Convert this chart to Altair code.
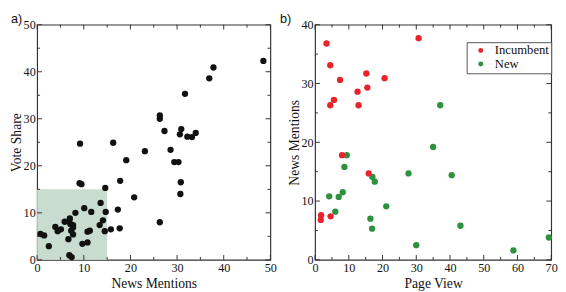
import altair as alt
import pandas as pd

# ---------------- data ----------------
# panel a) : News Mentions vs Vote Share
mentions_a = [48.5, 37.8, 36.9, 31.7, 26.3, 26.3, 27.3, 30.9, 30.6, 32.2, 33.2, 34.0,
              9.2, 16.3, 23.1, 28.6, 19.1, 29.4, 30.3, 30.8, 30.7, 9.1, 9.5, 17.8,
              14.6, 20.8, 26.3,
              13.6, 10.1, 8.2, 11.6, 14.7, 17.3, 7.0, 6.9, 5.9, 14.1, 13.4, 7.1, 7.7,
              3.9, 7.7, 5.1, 4.4, 15.8, 17.7, 14.5, 10.8, 11.3, 7.3, 7.7, 0.7, 1.5,
              6.7, 2.5, 9.7, 10.8, 6.9, 7.4]
vote_share = [42.3, 40.9, 38.6, 35.3, 30.7, 30.0, 27.4, 27.8, 26.7, 26.2, 26.1, 27.0,
              24.7, 24.9, 23.1, 23.4, 21.2, 20.8, 20.8, 16.5, 14.0, 16.3, 16.1, 16.8,
              15.3, 13.3, 8.0,
              12.1, 11.0, 10.0, 10.2, 10.2, 10.7, 8.8, 8.2, 8.1, 8.4, 7.4, 7.6, 7.4,
              7.0, 6.9, 6.5, 6.1, 6.5, 6.7, 6.1, 6.0, 6.2, 6.2, 5.4, 5.5, 5.2,
              4.4, 2.9, 3.4, 3.7, 1.0, 0.6]
shade_x = [0, 15]
shade_y = [0, 15]

# panel b) : Page View vs News Mentions
groups = ["Incumbent", "New"]
inc_pageview = [3.4, 4.5, 7.4, 15.2, 20.6, 30.7, 12.6, 15.5, 5.6, 4.5, 12.9, 8.0,
                15.9, 1.8, 1.7, 4.6]
inc_mentions = [36.8, 33.1, 30.6, 31.7, 30.9, 37.7, 28.6, 29.3, 27.2, 26.3, 26.3, 17.8,
                14.7, 7.6, 6.8, 7.4]
new_pageview = [37.1, 35.0, 9.4, 8.7, 17.0, 17.7, 27.7, 40.5, 4.2, 8.2, 7.0, 6.0,
                21.1, 16.4, 16.9, 43.1, 30.0, 58.8, 69.3]
new_mentions = [26.3, 19.2, 17.8, 15.8, 14.1, 13.3, 14.7, 14.4, 10.8, 11.5, 10.7, 8.2,
                9.1, 7.0, 5.3, 5.8, 2.5, 1.6, 3.8]

panel_labels = ["a)", "b)"]

# ---------------- style ----------------
SERIF = "Liberation Serif"
SANS = "Liberation Sans"
FRAME = "#333333"
RED = "#e8232b"
GREEN = "#2e913d"
SHADE = "#c8ddcf"

H = 242
W1 = 240
W2 = 243
GAP = 46


def axis(title, values):
    return alt.Axis(title=title, values=values, ticks=False, domain=False, grid=False,
                    labelFlush=False, labelOverlap=False)


def tick_layers(xscale, yscale, xaxis, yaxis, xmax, ymax, W, H):
    layers = []
    for start, length in ((0, 5), (5, 3)):
        xv = pd.DataFrame({"v": list(range(start, xmax + 1, 10))})
        yv = pd.DataFrame({"v": list(range(start, ymax + 1, 10))})
        bx = alt.Chart(xv).mark_rule(color=FRAME, strokeWidth=1)
        by = alt.Chart(yv).mark_rule(color=FRAME, strokeWidth=1)
        X = alt.X("v:Q", scale=xscale, axis=xaxis)
        Y = alt.Y("v:Q", scale=yscale, axis=yaxis)
        layers += [
            bx.encode(x=X, y=alt.value(H), y2=alt.value(H - length)),
            bx.encode(x=X, y=alt.value(0), y2=alt.value(length)),
            by.encode(y=Y, x=alt.value(0), x2=alt.value(length)),
            by.encode(y=Y, x=alt.value(W), x2=alt.value(W - length)),
        ]
    return layers


# ---------------- panel a ----------------
xs_a = alt.Scale(domain=[0, 50], nice=False, zero=True)
ys_a = alt.Scale(domain=[0, 50], nice=False, zero=True)
xa_a = axis("News Mentions", [0, 10, 20, 30, 40, 50])
ya_a = axis("Vote Share", [0, 10, 20, 30, 40, 50])

df_a = pd.DataFrame({"m": mentions_a, "v": vote_share})
shade = alt.Chart(pd.DataFrame({"x": [shade_x[0]], "x2": [shade_x[1]],
                                "y": [shade_y[0]], "y2": [shade_y[1]]})).mark_rect(
    color=SHADE, opacity=1).encode(
    x=alt.X("x:Q", scale=xs_a, axis=xa_a), x2="x2:Q",
    y=alt.Y("y:Q", scale=ys_a, axis=ya_a), y2="y2:Q")

pts_a = alt.Chart(df_a).mark_circle(size=42, color="#111111", opacity=1).encode(
    x=alt.X("m:Q", scale=xs_a, axis=xa_a),
    y=alt.Y("v:Q", scale=ys_a, axis=ya_a))

lab_a = alt.Chart(pd.DataFrame({"t": [panel_labels[0]]})).mark_text(
    align="left", baseline="top", font=SANS, fontSize=13, color="#111").encode(
    text="t:N", x=alt.value(-27), y=alt.value(-12))

left = alt.layer(shade, pts_a, *tick_layers(xs_a, ys_a, xa_a, ya_a, 50, 50, W1, H),
                 lab_a).properties(width=W1, height=H)

# ---------------- panel b ----------------
xs_b = alt.Scale(domain=[0, 70], nice=False, zero=True)
ys_b = alt.Scale(domain=[0, 40], nice=False, zero=True)
xa_b = axis("Page View", [0, 10, 20, 30, 40, 50, 60, 70])
ya_b = axis("News Mentions", [0, 10, 20, 30, 40])

df_b = pd.DataFrame({
    "pv": new_pageview + inc_pageview,
    "nm": new_mentions + inc_mentions,
    "g": [groups[1]] * len(new_pageview) + [groups[0]] * len(inc_pageview),
})

pts_b = alt.Chart(df_b).mark_circle(size=42, opacity=1).encode(
    x=alt.X("pv:Q", scale=xs_b, axis=xa_b),
    y=alt.Y("nm:Q", scale=ys_b, axis=ya_b),
    color=alt.Color("g:N", scale=alt.Scale(domain=groups, range=[RED, GREEN]),
                    legend=alt.Legend(title=None, orient="none",
                                      legendX=W1 + GAP + 156, legendY=18,
                                      direction="vertical", padding=2,
                                      strokeColor="#555555", fillColor="white",
                                      labelFont=SERIF, labelFontSize=13,
                                      labelColor="#111", symbolType="circle",
                                      symbolSize=26, symbolStrokeWidth=0,
                                      symbolOffset=6,
                                      rowPadding=0, labelOffset=8)))

lab_b = alt.Chart(pd.DataFrame({"t": [panel_labels[1]]})).mark_text(
    align="left", baseline="top", font=SANS, fontSize=13, color="#111").encode(
    text="t:N", x=alt.value(-36), y=alt.value(-12))

right = alt.layer(pts_b, *tick_layers(xs_b, ys_b, xa_b, ya_b, 70, 40, W2, H),
                  lab_b).properties(width=W2, height=H)

chart = alt.hconcat(left, right, spacing=GAP, bounds="flush").configure_view(
    stroke=FRAME, strokeWidth=1.2
).configure_axis(
    labelFont=SERIF, labelFontSize=12.5, labelColor="#111", labelPadding=2,
    titleFont=SERIF, titleFontSize=14, titleFontWeight="normal", titleColor="#111"
).configure_axisX(
    titlePadding=3
).configure_axisY(
    titlePadding=0
).properties(padding=0, background="white")

chart.save("out.html", embed_options={"renderer": "svg", "actions": False})
